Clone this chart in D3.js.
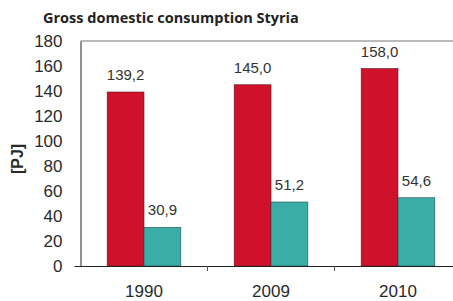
<!DOCTYPE html>
<html>
<head>
<script src="https://d3js.org/d3.v7.min.js"></script>
<style>
  body { margin: 0; background: #fff; }
  svg { display: block; }
</style>
</head>
<body>
<div id="chart"></div>
<script>
// data
const years = ["1990", "2009", "2010"];
const seriesA = [139.2, 145.0, 158.0];   // red bars
const seriesB = [30.9, 51.2, 54.6];      // teal bars
const yTicks = [0, 20, 40, 60, 80, 100, 120, 140, 160, 180];

const width = 453, height = 301;
const plotLeft = 80.5, plotTop = 41, plotBottom = 266;
const bandW = 127;

const svg = d3.select("#chart").append("svg")
    .attr("width", width)
    .attr("height", height);

// title
svg.append("text")
    .attr("x", 43).attr("y", 23)
    .attr("font-family", "'Open Sans', sans-serif")
    .attr("font-weight", "bold")
    .attr("font-size", 14.5)
    .attr("fill", "#222")
    .text("Gross domestic consumption Styria");

let x = d3.scaleBand()
    .domain(years)
    .range([plotLeft, plotLeft + bandW * years.length])
    .paddingInner(0.42)
    .paddingOuter(0.21);

let y = d3.scaleLinear()
    .domain([0, 180])
    .range([plotBottom, plotTop]);

// frame top line
svg.append("line")
    .attr("x1", plotLeft).attr("x2", width)
    .attr("y1", plotTop).attr("y2", plotTop)
    .attr("stroke", "#777").attr("stroke-width", 1);

// y axis
let yAxis = svg.append("g")
    .attr("transform", `translate(${plotLeft},0)`)
    .call(d3.axisLeft(y).tickValues(yTicks).tickSize(0).tickPadding(18));
yAxis.select(".domain").attr("stroke", "#222");
yAxis.selectAll("text")
    .attr("font-family", "Arial, 'Liberation Sans', sans-serif")
    .attr("font-size", 17)
    .attr("fill", "#2a2a2a");

svg.append("text")
    .attr("transform", "translate(23,159) rotate(-90)")
    .attr("text-anchor", "middle")
    .attr("font-family", "Arial, 'Liberation Sans', sans-serif")
    .attr("font-weight", "bold")
    .attr("font-size", 16)
    .attr("fill", "#2a2a2a")
    .text("[PJ]");

const half = x.bandwidth() / 2;

// red bars
svg.selectAll("rect.a").data(seriesA).join("rect")
    .attr("class", "a")
    .attr("x", (d, i) => x(years[i]))
    .attr("y", d => y(d))
    .attr("width", half)
    .attr("height", d => y(0) - y(d))
    .attr("fill", "#d0112b")
    .attr("stroke", "#5a1a1a").attr("stroke-width", 0.6);

// teal bars
svg.selectAll("rect.b").data(seriesB).join("rect")
    .attr("class", "b")
    .attr("x", (d, i) => x(years[i]) + half)
    .attr("y", d => y(d))
    .attr("width", half)
    .attr("height", d => y(0) - y(d))
    .attr("fill", "#3aada8")
    .attr("stroke", "#1f4f4c").attr("stroke-width", 0.6);

// value labels
const fmt = d => d.toFixed(1).replace(".", ",");
svg.selectAll("text.la").data(seriesA).join("text")
    .attr("class", "la")
    .attr("x", (d, i) => x(years[i]) + half / 2)
    .attr("y", d => y(d) - 12)
    .attr("text-anchor", "middle")
    .attr("font-family", "Arial, 'Liberation Sans', sans-serif")
    .attr("font-size", 15)
    .attr("fill", "#333")
    .text(fmt);
svg.selectAll("text.lb").data(seriesB).join("text")
    .attr("class", "lb")
    .attr("x", (d, i) => x(years[i]) + half * 1.5)
    .attr("y", d => y(d) - 12)
    .attr("text-anchor", "middle")
    .attr("font-family", "Arial, 'Liberation Sans', sans-serif")
    .attr("font-size", 15)
    .attr("fill", "#333")
    .text(fmt);

// x axis
let xAxis = svg.append("g")
    .attr("transform", `translate(0,${plotBottom})`)
    .call(d3.axisBottom(x).tickSize(0).tickPadding(19));
xAxis.select(".domain").attr("stroke", "#222").attr("d", `M${plotLeft - 6},0.5H${width}`);
xAxis.selectAll("text")
    .attr("font-family", "Arial, 'Liberation Sans', sans-serif")
    .attr("font-size", 17)
    .attr("fill", "#2a2a2a");

// small separator ticks between categories
svg.selectAll("line.sep").data(years.slice(1)).join("line")
    .attr("class", "sep")
    .attr("x1", d => x(d) - x.step() * x.paddingInner() / 2)
    .attr("x2", d => x(d) - x.step() * x.paddingInner() / 2)
    .attr("y1", plotBottom).attr("y2", plotBottom + 5)
    .attr("stroke", "#555");
</script>
</body>
</html>
